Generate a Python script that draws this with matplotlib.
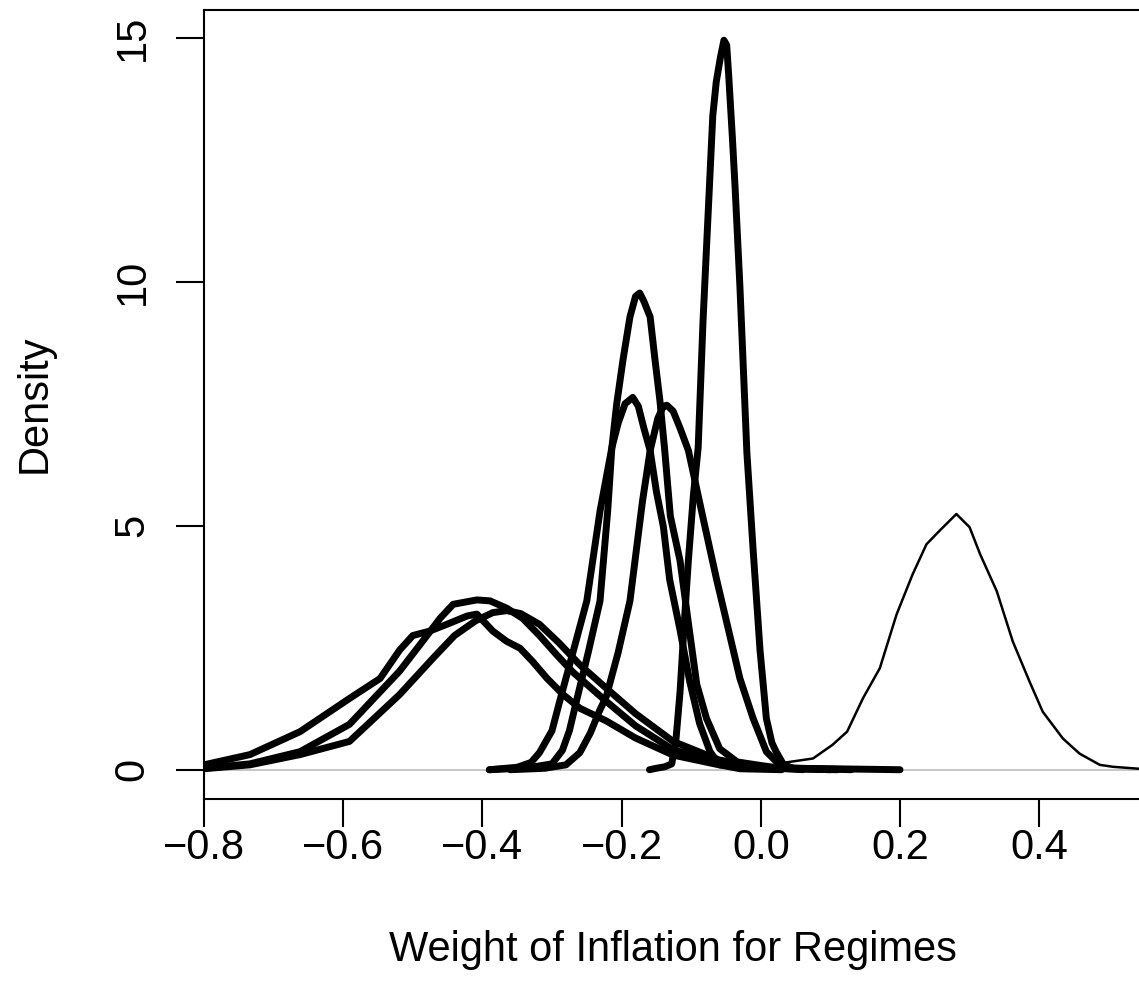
import matplotlib.pyplot as plt

plt.rcParams['font.family'] = ['Liberation Sans', 'DejaVu Sans']

# density curves (x = weight, y = density)
# tall narrow regime, peak ~15
b_x = [-0.160, -0.150, -0.138, -0.128, -0.122, -0.116, -0.110, -0.104, -0.097, -0.090,
       -0.083, -0.076, -0.069, -0.064, -0.058, -0.053, -0.049, -0.046, -0.041, -0.037,
       -0.030, -0.020, -0.011, -0.001, 0.008, 0.016, 0.022, 0.032, 0.045]
b_y = [0.00, 0.03, 0.06, 0.12, 0.60, 1.60, 3.00, 4.30, 5.60, 6.60,
       9.20, 11.30, 13.40, 14.10, 14.60, 14.95, 14.85, 14.20, 13.00, 11.95,
       9.90, 6.50, 4.50, 2.43, 1.05, 0.55, 0.37, 0.12, 0.03]

# narrow regime, peak ~9.8
c_x = [-0.390, -0.360, -0.330, -0.300, -0.285, -0.275, -0.265, -0.248, -0.231, -0.220,
       -0.214, -0.207, -0.198, -0.188, -0.180, -0.174, -0.168, -0.159, -0.152, -0.145,
       -0.138, -0.130, -0.116, -0.104, -0.092, -0.078, -0.059, -0.034, 0.003, 0.030, 0.060]
c_y = [0.00, 0.02, 0.05, 0.12, 0.40, 0.80, 1.40, 2.40, 3.46, 5.30,
       6.60, 7.50, 8.40, 9.28, 9.70, 9.77, 9.60, 9.28, 8.40, 7.57,
       6.54, 5.20, 4.28, 3.00, 1.75, 1.05, 0.43, 0.16, 0.08, 0.03, 0.00]

# narrow regime, peak ~7.6
d_x = [-0.390, -0.350, -0.330, -0.318, -0.300, -0.289, -0.270, -0.250, -0.231, -0.214,
       -0.205, -0.195, -0.184, -0.176, -0.168, -0.159, -0.150, -0.140, -0.131, -0.116,
       -0.102, -0.088, -0.073, -0.059, -0.030, 0.030]
d_y = [0.00, 0.05, 0.15, 0.35, 0.80, 1.40, 2.40, 3.46, 5.30, 6.60,
       7.10, 7.50, 7.63, 7.45, 7.00, 6.54, 5.70, 4.98, 3.90, 2.86,
       1.80, 0.95, 0.37, 0.10, 0.02, 0.00]

# narrow regime, peak ~7.5
e_x = [-0.360, -0.310, -0.280, -0.260, -0.245, -0.232, -0.222, -0.205, -0.188, -0.170,
       -0.159, -0.148, -0.140, -0.135, -0.126, -0.116, -0.104, -0.083, -0.064, -0.045,
       -0.030, -0.011, 0.008, 0.027, 0.050, 0.100]
e_y = [0.00, 0.03, 0.10, 0.35, 0.75, 1.20, 1.50, 2.40, 3.46, 5.50,
       6.54, 7.20, 7.45, 7.47, 7.35, 7.00, 6.54, 5.16, 3.93, 2.78,
       1.87, 1.05, 0.37, 0.10, 0.02, 0.00]

# broad regimes around -0.4
f_x = [-0.850, -0.800, -0.734, -0.662, -0.591, -0.519, -0.486, -0.461, -0.442, -0.408,
       -0.389, -0.365, -0.342, -0.318, -0.293, -0.270, -0.222, -0.180, -0.126, -0.060,
       0.000, 0.200]
f_y = [0.00, 0.03, 0.12, 0.37, 0.93, 2.02, 2.63, 3.10, 3.39, 3.48,
       3.46, 3.31, 3.10, 2.75, 2.35, 2.00, 1.40, 0.90, 0.41, 0.15,
       0.04, 0.00]

g_x = [-0.850, -0.800, -0.734, -0.662, -0.591, -0.519, -0.470, -0.440, -0.410, -0.385,
       -0.365, -0.345, -0.318, -0.290, -0.260, -0.222, -0.180, -0.126, -0.060, 0.000, 0.130]
g_y = [0.00, 0.02, 0.10, 0.31, 0.58, 1.54, 2.30, 2.75, 3.05, 3.22,
       3.26, 3.20, 2.98, 2.60, 2.15, 1.67, 1.15, 0.58, 0.20, 0.05, 0.00]

h_x = [-0.850, -0.800, -0.734, -0.662, -0.591, -0.547, -0.519, -0.500, -0.476, -0.451,
       -0.422, -0.408, -0.385, -0.365, -0.346, -0.328, -0.307, -0.284, -0.260, -0.222,
       -0.180, -0.126, -0.060, 0.000, 0.110]
h_y = [0.02, 0.10, 0.31, 0.78, 1.46, 1.87, 2.45, 2.75, 2.84, 2.98,
       3.15, 3.19, 2.84, 2.63, 2.49, 2.22, 1.87, 1.54, 1.26, 1.00,
       0.65, 0.30, 0.10, 0.03, 0.00]

# thin curve, the positive regime
a_x = [0.000, 0.027, 0.075, 0.103, 0.124, 0.147, 0.171, 0.195, 0.218, 0.238,
       0.257, 0.281, 0.300, 0.315, 0.339, 0.362, 0.386, 0.405, 0.434, 0.458,
       0.487, 0.506, 0.543, 0.560]
a_y = [0.02, 0.13, 0.23, 0.51, 0.78, 1.47, 2.08, 3.18, 4.00, 4.62,
       4.90, 5.24, 4.97, 4.42, 3.66, 2.63, 1.81, 1.19, 0.64, 0.33,
       0.10, 0.06, 0.02, 0.01]

thick = [(b_x, b_y), (c_x, c_y), (d_x, d_y), (e_x, e_y), (f_x, f_y), (g_x, g_y), (h_x, h_y)]

fig = plt.figure(figsize=(11.39, 9.98), dpi=100)
ax = fig.add_axes([0.1791, 0.1994, 0.8225, 0.7906])

ax.axhline(0, color='#bebebe', lw=1.2, zorder=1)
for xs, ys in thick:
    ax.plot(xs, ys, color='black', lw=5, solid_capstyle='round', solid_joinstyle='round')
ax.plot(a_x, a_y, color='black', lw=1.8, solid_joinstyle='round')

ax.set_xlim(-0.8, 0.546)
ax.set_ylim(-0.6, 15.57)

xt = [-0.8, -0.6, -0.4, -0.2, 0.0, 0.2, 0.4]
ax.set_xticks(xt)
ax.set_xticklabels(['\u22120.8', '\u22120.6', '\u22120.4', '\u22120.2', '0.0', '0.2', '0.4'])
yt = [0, 5, 10, 15]
ax.set_yticks(yt)
ax.set_yticklabels(['0', '5', '10', '15'], rotation=90, va='center')

ax.tick_params(direction='out', length=20, width=1.5, labelsize=30, colors='black')
ax.tick_params(axis='x', pad=1)
ax.tick_params(axis='y', pad=17)
for s in ax.spines.values():
    s.set_linewidth(1.5)

fig.text(672.5 / 1139, 1 - 950 / 998, 'Weight of Inflation for Regimes',
         ha='center', va='center', fontsize=30)
fig.text(35 / 1139, 1 - 404 / 998, 'Density', rotation=90,
         ha='center', va='center', fontsize=30)

fig.savefig('out.png', dpi=100)
